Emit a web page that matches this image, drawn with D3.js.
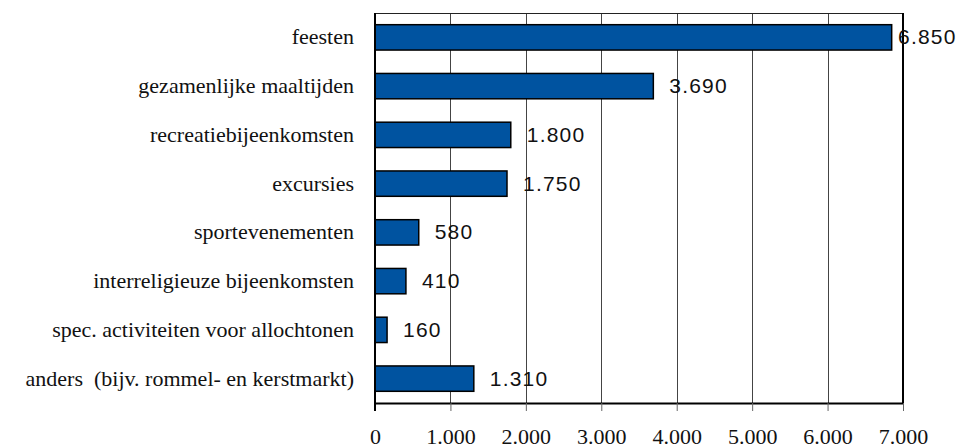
<!DOCTYPE html>
<html>
<head>
<meta charset="utf-8">
<script src="https://cdn.jsdelivr.net/npm/d3@7"></script>
<style>
  body { margin: 0; background: #fff; }
  svg { display: block; }
  text { white-space: pre; }
</style>
</head>
<body>
<svg id="chart" width="958" height="448"></svg>
<script>
const categories = [
  "feesten",
  "gezamenlijke maaltijden",
  "recreatiebijeenkomsten",
  "excursies",
  "sportevenementen",
  "interreligieuze bijeenkomsten",
  "spec. activiteiten voor allochtonen",
  "anders  (bijv. rommel- en kerstmarkt)",
];
const values = [ 6850, 3690, 1800, 1750, 580, 410, 160, 1310 ];
const tickValues = [ 0, 1000, 2000, 3000, 4000, 5000, 6000, 7000 ];
const tickLabels = [ "0", "1.000", "2.000", "3.000", "4.000", "5.000", "6.000", "7.000" ];

const WIDTH = 958;
const HEIGHT = 448;
const MARGINS = { top: 13, right: 55, bottom: 45, left: 375 };

const nl = d3.formatLocale( { decimal: ",", thousands: ".", grouping: [ 3 ], currency: [ "€", "" ] } );
const fmt = nl.format( ",d" );

const svg = d3.select( "#chart" );

const x = d3.scaleLinear()
  .domain( [ 0, 7000 ] )
  .range( [ MARGINS.left, WIDTH - MARGINS.right ] );

const y = d3.scaleBand()
  .domain( categories )
  .range( [ MARGINS.top, HEIGHT - MARGINS.bottom ] )
  .paddingInner( 0.48 )
  .paddingOuter( 0.24 );

const bottom = HEIGHT - MARGINS.bottom;

// vertical gridlines
svg.append( "g" )
  .attr( "transform", `translate(0,${bottom})` )
  .call( d3.axisBottom( x ).tickValues( tickValues ).tickSize( -( bottom - MARGINS.top ) ).tickFormat( "" ).tickSizeOuter( 0 ) )
  .call( g => g.select( ".domain" ).remove() )
  .call( g => g.selectAll( "line" ).attr( "stroke", "#444" ).attr( "shape-rendering", "crispEdges" ) );

// top border
svg.append( "line" )
  .attr( "x1", x( 0 ) ).attr( "x2", x( 7000 ) )
  .attr( "y1", MARGINS.top + 0.5 ).attr( "y2", MARGINS.top + 0.5 )
  .attr( "stroke", "#222" );

// right border
svg.append( "line" )
  .attr( "x1", x( 7000 ) ).attr( "x2", x( 7000 ) )
  .attr( "y1", MARGINS.top ).attr( "y2", bottom )
  .attr( "stroke", "#000" ).attr( "stroke-width", 2 );

// bars
svg.append( "g" )
  .selectAll( "rect" )
  .data( values )
  .join( "rect" )
  .attr( "x", x( 0 ) )
  .attr( "y", ( d, i ) => y( categories[i] ) )
  .attr( "width", d => x( d ) - x( 0 ) )
  .attr( "height", y.bandwidth() )
  .attr( "fill", "#0053A0" )
  .attr( "stroke", "#000" )
  .attr( "stroke-width", 1.5 );

// value labels
svg.append( "g" )
  .selectAll( "text" )
  .data( values )
  .join( "text" )
  .attr( "x", d => Math.min( x( d ) + 16, WIDTH - 60 ) )
  .attr( "y", ( d, i ) => y( categories[i] ) + y.bandwidth() / 2 )
  .attr( "dy", "0.33em" )
  .attr( "font-family", "'Liberation Sans', Arial, sans-serif" )
  .attr( "font-size", 21 )
  .attr( "letter-spacing", 1.2 )
  .attr( "fill", "#111" )
  .text( d => fmt( d ) );

// x axis
svg.append( "g" )
  .attr( "transform", `translate(0,${bottom})` )
  .call( d3.axisBottom( x ).tickValues( tickValues ).tickSize( 8 ).tickSizeOuter( 0 )
    .tickFormat( ( d, i ) => tickLabels[i] ) )
  .call( g => g.select( ".domain" ).attr( "stroke", "#000" ).attr( "stroke-width", 2 ) )
  .call( g => g.selectAll( ".tick line" ).attr( "stroke", "#666" ) )
  .call( g => g.selectAll( "text" )
    .attr( "y", 41 )
    .attr( "dy", 0 )
    .attr( "fill", "#111" )
    .attr( "font-family", "'Liberation Serif', 'Times New Roman', serif" )
    .attr( "font-size", 22 ) );

// y axis
svg.append( "g" )
  .attr( "transform", `translate(${MARGINS.left},0)` )
  .call( d3.axisLeft( y ).tickSize( 0 ).tickPadding( 21 ) )
  .call( g => g.select( ".domain" ).attr( "stroke", "#000" ).attr( "stroke-width", 2 ).attr( "d", `M0,${MARGINS.top}V${bottom + 8}` ) )
  .call( g => g.selectAll( "text" )
    .attr( "dy", "0.32em" )
    .attr( "fill", "#111" )
    .attr( "font-family", "'Liberation Serif', 'Times New Roman', serif" )
    .attr( "font-size", 22 ) );
</script>
</body>
</html>
